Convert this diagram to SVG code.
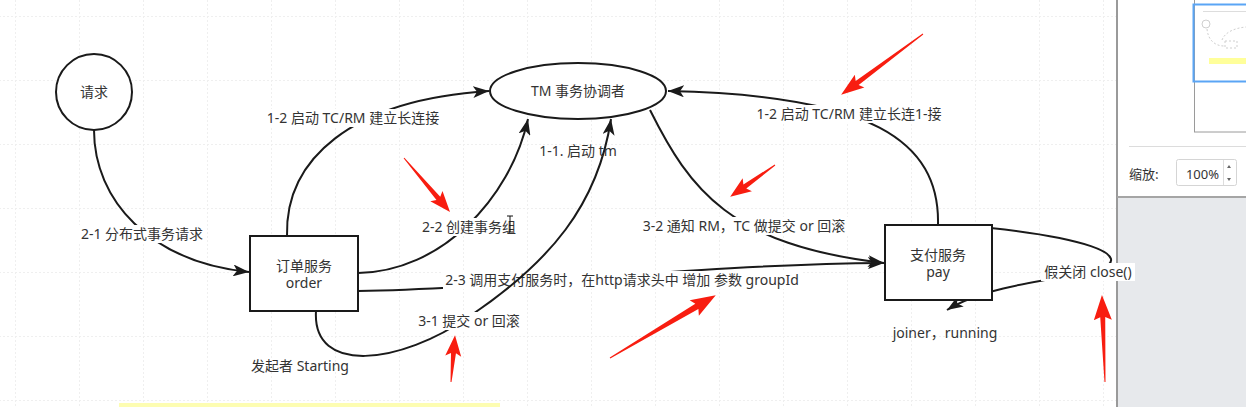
<svg xmlns="http://www.w3.org/2000/svg" width="1246" height="407" viewBox="0 0 1246 407">
<defs>
<pattern id="grid" x="15" y="16" width="64" height="64" patternUnits="userSpaceOnUse"><path d="M0,0.5 H64 M0.5,0 V64" fill="none" stroke="#efefef" stroke-width="1" stroke-dasharray="2,2"/></pattern>
<marker id="arr" markerUnits="userSpaceOnUse" markerWidth="18" markerHeight="12" refX="16" refY="6" orient="auto"><path d="M0,0 L16,6 L0,12 L4,6 Z" fill="#1a1a1a"/></marker>
</defs>
<style>
.t{font-family:"Noto Sans","Noto Sans CJK SC",sans-serif;font-size:14px;fill:#333;text-anchor:middle}
.e{fill:none;stroke:#1a1a1a;stroke-width:2}
.n{fill:#fff;stroke:#1a1a1a;stroke-width:2}
.bg{fill:#fff}
.red{fill:#f81d10}
.mini{fill:none;stroke:#cfcfcf;stroke-width:1}
</style>
<rect x="0" y="0" width="1246" height="407" fill="#fff"/>
<rect x="0" y="0" width="1117" height="407" fill="url(#grid)"/>
<rect x="119" y="403" width="381" height="4" fill="#fdfdb2"/>

<g id="connectors">
  <g id="e-2-1">
    <path class="e" d="M94,130 C94,200 150,262 249,272" marker-end="url(#arr)"/>
    <rect class="bg" x="78" y="225" width="127" height="18"/>
    <text class="t" x="142" y="239">2-1 分布式事务请求</text>
  </g>
  <g id="e-1-2-left">
    <path class="e" d="M287,236 C285,160 350,100 489,91" marker-end="url(#arr)"/>
    <rect class="bg" x="261" y="109" width="184" height="18"/>
    <text class="t" x="353" y="123">1-2 启动 TC/RM 建立长连接</text>
  </g>
  <g id="e-2-2">
    <path class="e" d="M358,273 C440,272 510,200 528,119" marker-end="url(#arr)"/>
    <rect class="bg" x="420" y="218" width="99" height="18"/>
    <text class="t" x="469" y="232">2-2 创建事务组</text>
  </g>
  <g id="e-2-3">
    <path class="e" d="M358,291 C500,289 700,264 884,263" marker-end="url(#arr)"/>
    <rect class="bg" x="443" y="271" width="359" height="18"/>
    <text class="t" x="622" y="285">2-3 调用支付服务时，在http请求头中 增加 参数 groupId</text>
  </g>
  <g id="e-3-1">
    <path class="e" d="M316,311 C312,375 400,365 470,316 C550,262 598,205 611,119" marker-end="url(#arr)"/>
    <rect class="bg" x="416" y="312" width="107" height="18"/>
    <text class="t" x="469" y="326">3-1 提交 or 回滚</text>
  </g>
  <g id="e-3-2">
    <path class="e" d="M650,110 C690,190 730,245 884,263" marker-end="url(#arr)"/>
    <rect class="bg" x="638" y="217" width="212" height="18"/>
    <text class="t" x="744" y="231">3-2 通知 RM，TC 做提交 or 回滚</text>
  </g>
  <g id="e-1-2-right">
    <path class="e" d="M938,225 C940,140 870,95 668,91" marker-end="url(#arr)"/>
    <rect class="bg" x="751" y="105" width="196" height="18"/>
    <text class="t" x="849" y="119">1-2 启动 TC/RM 建立长连1-接</text>
  </g>
  <g id="e-close">
    <path class="e" d="M960,225 C1085,236 1138,255 1098,271 C1040,281 982,288 947,310" marker-end="url(#arr)"/>
  </g>
</g>

<g id="node-request">
  <circle class="n" cx="94" cy="92" r="38"/>
  <text class="t" x="94" y="97">请求</text>
</g>
<g id="node-tm">
  <ellipse class="n" cx="578" cy="91" rx="88" ry="28"/>
  <text class="t" x="578" y="96">TM 事务协调者</text>
</g>
<g id="node-order">
  <rect class="n" x="250" y="236" width="108" height="75"/>
  <text class="t" x="304" y="271">订单服务</text>
  <text class="t" x="304" y="288">order</text>
</g>
<g id="node-pay">
  <rect class="n" x="885" y="225" width="107" height="75"/>
  <text class="t" x="938" y="260">支付服务</text>
  <text class="t" x="938" y="277">pay</text>
</g>

<g id="free-texts">
  <text class="t" x="578" y="156">1-1. 启动 tm</text>
  <text class="t" x="300" y="371">发起者 Starting</text>
  <text class="t" x="945" y="338">joiner，running</text>
</g>

<g id="cursor" stroke="#111" stroke-width="1" fill="none">
  <path d="M510,216 V232 M507,216 H513 M507,232 H513"/>
</g>

<g id="panel">
  <rect x="1117" y="0" width="129" height="197" fill="#fff"/>
  <rect x="1117" y="197" width="129" height="210" fill="#e7e9ec"/>
  <line x1="1117" y1="0" x2="1117" y2="407" stroke="#9a9a9a" stroke-width="2"/>
  <line x1="1117" y1="197" x2="1246" y2="197" stroke="#a5a5a5" stroke-width="2"/>
  <rect x="1194.5" y="-2" width="60" height="134" fill="none" stroke="#9a9a9a"/>
  <line x1="1203" y1="11.5" x2="1246" y2="11.5" stroke="#ddd"/>
  <circle class="mini" cx="1206" cy="24" r="4"/>
  <path class="mini" stroke-dasharray="2,2" d="M1207,29 C1208,40 1215,46 1224,46 M1222,40 C1225,32 1235,28 1246,27"/>
  <rect class="mini" stroke-dasharray="2,2" x="1225" y="41" width="12" height="7"/>
  <rect x="1209" y="58" width="40" height="6" fill="#ffff9a"/>
  <rect x="1193.5" y="4.5" width="60" height="77" fill="none" stroke="#5aa5f5" stroke-width="2"/>
  <line x1="1129" y1="146.5" x2="1246" y2="146.5" stroke="#dcdcdc"/>
  <text x="1129" y="179" style="font-family:'Noto Sans CJK SC',sans-serif;font-size:13px;fill:#333">缩放:</text>
  <rect x="1176.5" y="159.5" width="60" height="26" rx="2" fill="#fff" stroke="#d5d5d5"/>
  <text x="1219" y="179" style="font-family:'Noto Sans','Noto Sans CJK SC',sans-serif;font-size:13px;fill:#333;text-anchor:end">100%</text>
  <line x1="1223.5" y1="160" x2="1223.5" y2="185" stroke="#ddd"/>
  <polygon points="1227,168 1231,168 1229,165" fill="#666"/>
  <polygon points="1227,178 1231,178 1229,181" fill="#666"/>
</g>

<g id="close-label">
  <rect class="bg" x="1041" y="263" width="94" height="18"/>
  <text class="t" x="1088" y="277">假关闭 close()</text>
</g>

<g id="red-arrows">
  <polygon class="red" transform="translate(923,34) rotate(143.4)" points="0,-0.5 82,-2.5 79,-8 102,0 79,8 82,2.5 0,0.5"/>
  <polygon class="red" transform="translate(404,158) rotate(49.6)" points="0,-0.5 53,-2.5 50,-8 71,0 50,8 53,2.5 0,0.5"/>
  <polygon class="red" transform="translate(775,165) rotate(144.6)" points="0,-0.5 37,-2.5 34,-8 55,0 34,8 37,2.5 0,0.5"/>
  <polygon class="red" transform="translate(610,358) rotate(-30.7)" points="0,-0.5 101,-3 98,-9 123,0 98,9 101,3 0,0.5"/>
  <polygon class="red" transform="translate(451,382) rotate(-85.1)" points="0,-0.5 29,-2.5 26,-8 47,0 26,8 29,2.5 0,0.5"/>
  <polygon class="red" transform="translate(1105,382) rotate(-92)" points="0,-0.5 65,-2.5 62,-9 87,0 62,9 65,2.5 0,0.5"/>
</g>
</svg>
